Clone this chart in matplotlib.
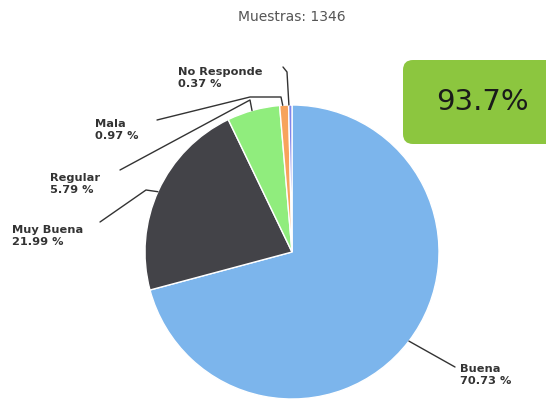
import numpy as np
import matplotlib.pyplot as plt
from matplotlib.patches import FancyBboxPatch

# datos de la encuesta
categorias = ['Buena', 'Muy Buena', 'Regular', 'Mala', 'No Responde']
valores = [70.73, 21.99, 5.79, 0.97, 0.37]
colores = ['#7cb5ec', '#434348', '#90ed7d', '#f7a35c', '#8085e9']
muestras = 1346
satisfaccion = 93.7

W, H = 546, 403
fig = plt.figure(figsize=(W / 100, H / 100), dpi=100)
ax = fig.add_axes([0, 0, 1, 1])
ax.set_xlim(0, W)
ax.set_ylim(0, H)
ax.set_aspect('equal')
ax.axis('off')

# centro y radio del pie (coordenadas en pixeles, y hacia arriba)
cx, cy, r = 292, H - 252, 147
ax.pie(valores, colors=colores, startangle=90, counterclock=False,
       center=(cx, cy), radius=r,
       wedgeprops=dict(edgecolor='white', linewidth=1))
ax.set_xlim(0, W)
ax.set_ylim(0, H)

ax.text(cx, H - 17, 'Muestras: %d' % muestras, ha='center', va='center',
        fontsize=10, color='#555555')

# posicion de etiquetas y codos de los conectores
etiquetas = {
    'Buena':       dict(txt=(460, 375), codo=[(455, 367)]),
    'Muy Buena':   dict(txt=(12, 236), codo=[(100, 222), (146, 190)]),
    'Regular':     dict(txt=(50, 184), codo=[(120, 170), (250, 100)]),
    'Mala':        dict(txt=(95, 130), codo=[(157, 120), (250, 97), (281, 97)]),
    'No Responde': dict(txt=(178, 78), codo=[(283, 67), (287, 72)]),
}

acum = np.cumsum([0] + valores[:-1])
for cat, v, a0 in zip(categorias, valores, acum):
    ang = np.deg2rad((a0 + v / 2) / 100 * 360)
    ex = cx + r * np.sin(ang)
    ey = cy + r * np.cos(ang)
    e = etiquetas[cat]
    pts = [(x, H - y) for x, y in e['codo']] + [(ex, ey)]
    xs, ys = zip(*pts)
    ax.plot(xs, ys, color='#333333', lw=1, solid_capstyle='round')
    tx, ty = e['txt']
    ax.text(tx, H - ty, '%s\n%.2f %%' % (cat, v), ha='left', va='center',
            fontsize=8.2, fontweight='bold', color='#333333', linespacing=1.25)

# recuadro verde con el porcentaje
caja = FancyBboxPatch((403, H - 144), 165, 84,
                      boxstyle='round,pad=0,rounding_size=10',
                      facecolor='#8cc63f', edgecolor='none')
ax.add_patch(caja)
ax.text(482, H - 102, '%.1f%%' % satisfaccion, ha='center', va='center',
        fontsize=21, color='#1a1a1a')

fig.savefig('out.png', dpi=100)
